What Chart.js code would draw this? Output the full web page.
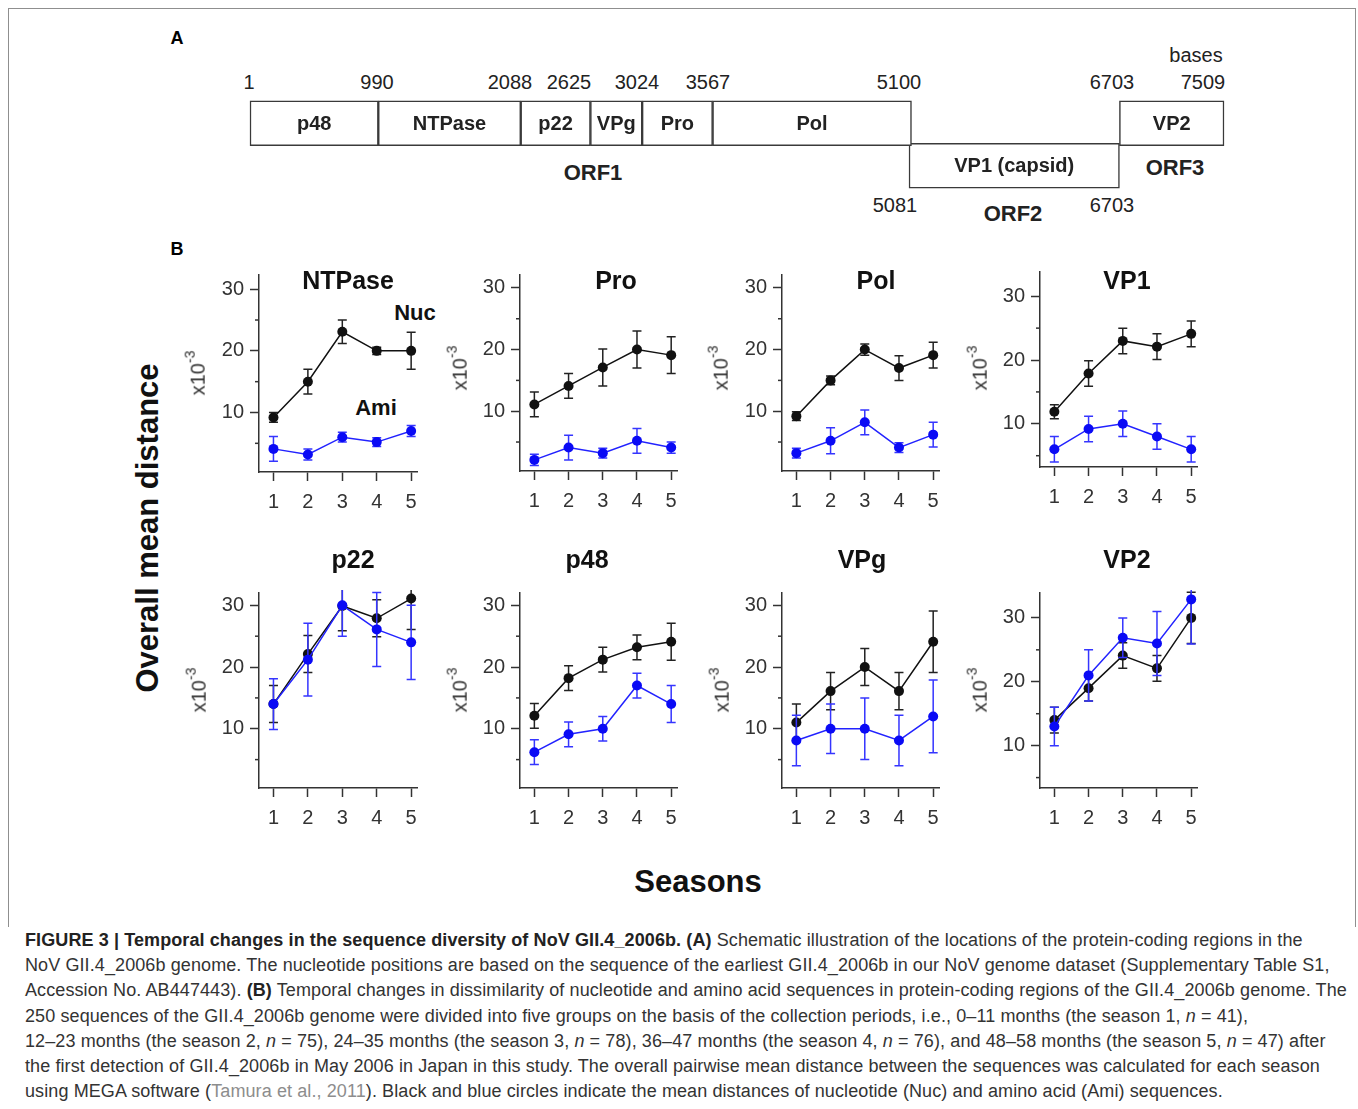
<!DOCTYPE html>
<html>
<head>
<meta charset="utf-8">
<script src="https://cdn.jsdelivr.net/npm/chart.js@4.4.1/dist/chart.umd.min.js"></script>
<style>
  body { margin: 0; background: #fff; font-family: "Liberation Sans", Arial, sans-serif; color: #222; }
  #page { position: relative; width: 1358px; height: 1109px; overflow: hidden; }
  #frame { position: absolute; left: 8px; top: 8px; width: 1346px; height: 918px;
           border: 1px solid #8f8f8f; border-bottom: none; }
  canvas { position: absolute; }
  .t { position: absolute; white-space: nowrap; line-height: 1; transform: translate(-50%, -50%); }
  .num { font-size: 20px; color: #222; }
  .orf { font-size: 22px; font-weight: bold; color: #222; }
  .panel { font-size: 18px; font-weight: bold; color: #000; }
  .title { font-size: 25px; font-weight: bold; color: #111; }
  .tag { font-size: 22px; font-weight: bold; color: #111; }
  .unit { font-size: 20px; color: #333; transform: translate(-50%, -50%) rotate(-90deg); }
  .unit sup { font-size: 14px; position: relative; top: -2px; }
  .big { font-size: 31px; font-weight: bold; color: #111; }
  #caption { position: absolute; left: 25px; top: 928px; font-size: 18px; line-height: 25.2px;
             letter-spacing: 0.1px; color: #333; white-space: nowrap; }
  #caption b { color: #222; }
  #caption .ref { color: #8d8d8d; }
</style>
</head>
<body>
<div id="page">
  <div id="frame"></div>

  <!-- panel A labels -->
  <div class="t panel" style="left:177px;top:38px">A</div>
  <div class="t num" style="left:1196px;top:55px">bases</div>
  <div class="t num" style="left:249px;top:82px">1</div>
  <div class="t num" style="left:377px;top:82px">990</div>
  <div class="t num" style="left:510px;top:82px">2088</div>
  <div class="t num" style="left:569px;top:82px">2625</div>
  <div class="t num" style="left:637px;top:82px">3024</div>
  <div class="t num" style="left:708px;top:82px">3567</div>
  <div class="t num" style="left:899px;top:82px">5100</div>
  <div class="t num" style="left:1112px;top:82px">6703</div>
  <div class="t num" style="left:1203px;top:82px">7509</div>
  <div class="t orf" style="left:593px;top:173px">ORF1</div>
  <div class="t orf" style="left:1175px;top:168px">ORF3</div>
  <div class="t num" style="left:895px;top:205px">5081</div>
  <div class="t num" style="left:1112px;top:205px">6703</div>
  <div class="t orf" style="left:1013px;top:214px">ORF2</div>

  <!-- panel B labels -->
  <div class="t panel" style="left:177px;top:249px">B</div>
  <div class="t big" style="left:147px;top:528px;transform:translate(-50%,-50%) rotate(-90deg)">Overall mean distance</div>
  <div class="t big" style="left:698px;top:881px">Seasons</div>
  <div class="t tag" style="left:415px;top:313px">Nuc</div>
  <div class="t tag" style="left:376px;top:408px">Ami</div>

  <div id="caption">
    <b>FIGURE 3 | Temporal changes in the sequence diversity of NoV GII.4_2006b. (A)</b> Schematic illustration of the locations of the protein-coding regions in the<br>
    NoV GII.4_2006b genome. The nucleotide positions are based on the sequence of the earliest GII.4_2006b in our NoV genome dataset (Supplementary Table S1,<br>
    Accession No. AB447443). <b>(B)</b> Temporal changes in dissimilarity of nucleotide and amino acid sequences in protein-coding regions of the GII.4_2006b genome. The<br>
    250 sequences of the GII.4_2006b genome were divided into five groups on the basis of the collection periods, i.e., 0–11 months (the season 1, <i>n</i> = 41),<br>
    12–23 months (the season 2, <i>n</i> = 75), 24–35 months (the season 3, <i>n</i> = 78), 36–47 months (the season 4, <i>n</i> = 76), and 48–58 months (the season 5, <i>n</i> = 47) after<br>
    the first detection of GII.4_2006b in May 2006 in Japan in this study. The overall pairwise mean distance between the sequences was calculated for each season<br>
    using MEGA software (<span class="ref">Tamura et al., 2011</span>). Black and blue circles indicate the mean distances of nucleotide (Nuc) and amino acid (Ami) sequences.
  </div>
</div>

<script>
// ── DATA ─────────────────────────────────────
// genome map (panel A)
const REGIONS      = ['p48', 'NTPase', 'p22', 'VPg', 'Pro', 'Pol', 'VP1 (capsid)', 'VP2'];
const REGION_START = [1, 990, 2088, 2625, 3024, 3567, 5081, 6703];
const REGION_END   = [990, 2088, 2625, 3024, 3567, 5100, 6703, 7509];
const REGION_ROW   = [0, 0, 0, 0, 0, 0, 1, 0];   // 0 = ORF1/ORF3 line, 1 = ORF2 line
const ROWS         = ['ORF1/ORF3', 'ORF2'];

// seasons (panel B)
const SEASONS     = [1, 2, 3, 4, 5];
const Y_TICKS     = [10, 20, 30];
const Y_MINOR     = [5, 15, 25];

const NTPASE_NUC     = [9.2, 15.0, 23.1, 20.0, 20.0];
const NTPASE_NUC_ERR = [0.8, 2.0, 1.9, 0.6, 3.0];
const NTPASE_AMI     = [4.1, 3.2, 6.0, 5.2, 7.0];
const NTPASE_AMI_ERR = [2.0, 0.9, 0.8, 0.7, 0.9];

const PRO_NUC     = [11.1, 14.1, 17.1, 20.0, 19.1];
const PRO_NUC_ERR = [2.0, 2.0, 3.0, 3.0, 3.0];
const PRO_AMI     = [2.1, 4.1, 3.2, 5.2, 4.1];
const PRO_AMI_ERR = [0.9, 2.0, 0.8, 2.0, 0.9];

const POL_NUC     = [9.2, 15.0, 20.0, 17.0, 19.1];
const POL_NUC_ERR = [0.7, 0.7, 0.9, 2.0, 2.1];
const POL_AMI     = [3.2, 5.2, 8.2, 4.1, 6.2];
const POL_AMI_ERR = [0.8, 2.1, 2.0, 0.8, 2.0];

const VP1_NUC     = [11.9, 17.9, 23.0, 22.1, 24.1];
const VP1_NUC_ERR = [1.1, 2.0, 2.0, 2.0, 2.0];
const VP1_AMI     = [6.0, 9.2, 10.0, 8.0, 6.0];
const VP1_AMI_ERR = [2.0, 2.0, 2.0, 2.0, 2.0];

const P22_NUC     = [14.0, 22.1, 29.9, 27.9, 31.1];
const P22_NUC_ERR = [3.0, 3.0, 4.0, 3.0, 5.0];
const P22_AMI     = [14.0, 21.2, 30.0, 26.1, 24.0];
const P22_AMI_ERR = [4.1, 5.9, 5.0, 6.0, 6.0];

const P48_NUC     = [12.1, 18.2, 21.2, 23.2, 24.1];
const P48_NUC_ERR = [2.0, 2.0, 2.0, 2.0, 3.0];
const P48_AMI     = [6.2, 9.1, 10.0, 17.0, 14.0];
const P48_AMI_ERR = [2.0, 2.0, 2.0, 2.0, 3.0];

const VPG_NUC     = [11.0, 16.1, 20.0, 16.1, 24.1];
const VPG_NUC_ERR = [3.0, 3.0, 3.0, 3.0, 5.0];
const VPG_AMI     = [8.1, 10.0, 10.0, 8.1, 12.0];
const VPG_AMI_ERR = [4.1, 4.0, 5.0, 4.1, 5.9];

const VP2_NUC     = [14.0, 19.0, 24.1, 22.1, 30.0];
const VP2_NUC_ERR = [2.0, 2.0, 2.0, 2.0, 4.0];
const VP2_AMI     = [13.0, 21.0, 26.9, 26.0, 32.9];
const VP2_AMI_ERR = [3.0, 4.0, 3.1, 5.0, 7.0];

// ── STYLE ────────────────────────────────────
const FONT   = '"Liberation Sans", Arial, sans-serif';
const AXIS   = '#333';
const BLACK  = '#111';
const BLUE   = '#0a0af5';
const BLUE_E = '#3535ff';
const page   = document.getElementById('page');

// panel layout: plot box [left, top, right, bottom] in page px, y range, title & unit-label spots
const PANELS = [
  { title: 'NTPase', nuc: NTPASE_NUC, nucErr: NTPASE_NUC_ERR, ami: NTPASE_AMI, amiErr: NTPASE_AMI_ERR,
    box: [259, 275, 417, 472], y: [0.35, 32.3], t: [348, 280], u: [196, 373] },
  { title: 'Pro', nuc: PRO_NUC, nucErr: PRO_NUC_ERR, ami: PRO_AMI, amiErr: PRO_AMI_ERR,
    box: [520, 275, 677, 471], y: [0.3, 32.1], t: [616, 280], u: [458, 368] },
  { title: 'Pol', nuc: POL_NUC, nucErr: POL_NUC_ERR, ami: POL_AMI, amiErr: POL_AMI_ERR,
    box: [782, 275, 939, 471], y: [0.3, 32.1], t: [876, 280], u: [719, 368] },
  { title: 'VP1', nuc: VP1_NUC, nucErr: VP1_NUC_ERR, ami: VP1_AMI, amiErr: VP1_AMI_ERR,
    box: [1040, 272, 1197, 467], y: [3.23, 33.8], t: [1127, 280], u: [978, 368] },
  { title: 'p22', nuc: P22_NUC, nucErr: P22_NUC_ERR, ami: P22_AMI, amiErr: P22_AMI_ERR,
    box: [259, 593, 417, 788], y: [0.4, 32.0], t: [353, 559], u: [197, 690] },
  { title: 'p48', nuc: P48_NUC, nucErr: P48_NUC_ERR, ami: P48_AMI, amiErr: P48_AMI_ERR,
    box: [520, 593, 677, 788], y: [0.4, 32.0], t: [587, 559], u: [458, 690] },
  { title: 'VPg', nuc: VPG_NUC, nucErr: VPG_NUC_ERR, ami: VPG_AMI, amiErr: VPG_AMI_ERR,
    box: [782, 593, 939, 788], y: [0.4, 32.0], t: [862, 559], u: [720, 690] },
  { title: 'VP2', nuc: VP2_NUC, nucErr: VP2_NUC_ERR, ami: VP2_AMI, amiErr: VP2_AMI_ERR,
    box: [1040, 593, 1197, 788], y: [3.37, 33.9], t: [1127, 559], u: [978, 690] }
];

// ── PLUGINS ──────────────────────────────────
const errorBars = {
  id: 'errorBars',
  beforeDatasetDraw(chart, args) {
    const ds = chart.data.datasets[args.index];
    if (!ds.errors) return;
    const { ctx, chartArea: a, scales: { x, y } } = chart;
    ctx.save();
    ctx.beginPath();
    ctx.rect(a.left - 8, a.top - 3, a.right - a.left + 16, a.bottom - a.top + 6);
    ctx.clip();
    ctx.strokeStyle = ds.errColor;
    ctx.lineWidth = 1.5;
    ds.data.forEach((p, i) => {
      const px = x.getPixelForValue(p.x);
      const hi = y.getPixelForValue(p.y + ds.errors[i]);
      const lo = y.getPixelForValue(p.y - ds.errors[i]);
      ctx.beginPath();
      ctx.moveTo(px, hi);       ctx.lineTo(px, lo);
      ctx.moveTo(px - 4.5, hi); ctx.lineTo(px + 4.5, hi);
      ctx.moveTo(px - 4.5, lo); ctx.lineTo(px + 4.5, lo);
      ctx.stroke();
    });
    ctx.restore();
  }
};

const minorTicks = {
  id: 'minorTicks',
  afterDraw(chart) {
    const { ctx, chartArea: a, scales: { y } } = chart;
    ctx.save();
    ctx.strokeStyle = AXIS;
    ctx.lineWidth = 1.5;
    Y_MINOR.forEach(v => {
      if (v < y.min || v > y.max) return;
      const py = y.getPixelForValue(v);
      ctx.beginPath();
      ctx.moveTo(a.left - 4, py);
      ctx.lineTo(a.left, py);
      ctx.stroke();
    });
    ctx.restore();
  }
};

const boxLabels = {
  id: 'boxLabels',
  afterDatasetsDraw(chart) {
    const ctx = chart.ctx;
    ctx.save();
    ctx.fillStyle = '#222';
    ctx.font = 'bold 20px ' + FONT;
    ctx.textAlign = 'center';
    ctx.textBaseline = 'middle';
    chart.data.datasets.forEach((ds, i) => {
      const el = chart.getDatasetMeta(i).data[REGION_ROW[i]];
      if (!el) return;
      ctx.fillText(ds.label, (el.x + el.base) / 2, el.y + 1);
    });
    ctx.restore();
  }
};

// ── HELPERS ──────────────────────────────────
function addCanvas(left, top, w, h) {
  const cv = document.createElement('canvas');
  cv.width = Math.round(w);
  cv.height = Math.round(h);
  cv.style.left = Math.round(left) + 'px';
  cv.style.top = Math.round(top) + 'px';
  page.appendChild(cv);
  return cv;
}

function addText(cls, x, y, html) {
  const d = document.createElement('div');
  d.className = 't ' + cls;
  d.style.left = x + 'px';
  d.style.top = y + 'px';
  d.innerHTML = html;
  page.appendChild(d);
}

// ── GENOME MAP ───────────────────────────────
function drawGenome() {
  const cv = addCanvas(240, 92, 994, 105);
  new Chart(cv, {
    type: 'bar',
    data: {
      labels: ROWS,
      datasets: REGIONS.map((name, i) => ({
        label: name,
        data: ROWS.map((r, j) => j === REGION_ROW[i] ? [REGION_START[i], REGION_END[i]] : null),
        backgroundColor: '#fff',
        borderColor: '#3a3a3a',
        borderWidth: 1.5,
        borderSkipped: false,
        grouped: false,
        barThickness: 45,
        clip: 8
      }))
    },
    options: {
      indexAxis: 'y',
      responsive: false,
      animation: false,
      devicePixelRatio: 1,
      layout: { padding: { left: 10, right: 10, top: 10, bottom: 10 } },
      plugins: { legend: { display: false }, tooltip: { enabled: false } },
      scales: {
        x: { type: 'linear', display: false, min: 1, max: 7509 },
        y: { display: false, offset: true }
      }
    },
    plugins: [boxLabels]
  });
}

// ── SEASON PANELS ────────────────────────────
function drawPanel(p) {
  const [L, T, R, B] = p.box;
  const padT = 24, padR = 20, yW = 70, xH = 45;
  const cv = addCanvas(L - yW, T - padT, (R - L) + yW + padR, (B - T) + padT + xH);
  const pts = arr => SEASONS.map((s, i) => ({ x: s, y: arr[i] }));

  new Chart(cv, {
    type: 'line',
    data: {
      datasets: [
        { label: 'Nuc', data: pts(p.nuc), errors: p.nucErr, errColor: '#222', order: 2,
          borderColor: BLACK, backgroundColor: BLACK, borderWidth: 1.5, tension: 0,
          pointRadius: 5, pointBorderWidth: 0, pointBackgroundColor: BLACK, clip: 8 },
        { label: 'Ami', data: pts(p.ami), errors: p.amiErr, errColor: BLUE_E, order: 1,
          borderColor: '#2222ff', backgroundColor: BLUE, borderWidth: 1.5, tension: 0,
          pointRadius: 5, pointBorderWidth: 0, pointBackgroundColor: BLUE, clip: 8 }
      ]
    },
    options: {
      responsive: false,
      animation: false,
      devicePixelRatio: 1,
      layout: { padding: { top: padT, right: padR, left: 0, bottom: 0 } },
      plugins: { legend: { display: false }, tooltip: { enabled: false } },
      scales: {
        x: {
          type: 'linear', min: 0.58, max: 5.17,
          afterBuildTicks: s => { s.ticks = SEASONS.map(v => ({ value: v })); },
          afterFit: s => { s.height = xH; },
          grid: { drawOnChartArea: false, tickLength: 9, tickColor: AXIS, tickWidth: 1.5 },
          border: { color: AXIS, width: 1.5 },
          ticks: { color: '#333', font: { size: 20, family: FONT }, padding: 9, maxRotation: 0, autoSkip: false }
        },
        y: {
          min: p.y[0], max: p.y[1],
          afterBuildTicks: s => { s.ticks = Y_TICKS.map(v => ({ value: v })); },
          afterFit: s => { s.width = yW; },
          grid: { drawOnChartArea: false, tickLength: 9, tickColor: AXIS, tickWidth: 1.5 },
          border: { color: AXIS, width: 1.5 },
          ticks: { color: '#333', font: { size: 20, family: FONT }, padding: 6 }
        }
      }
    },
    plugins: [errorBars, minorTicks]
  });

  addText('title', p.t[0], p.t[1], p.title);
  addText('unit', p.u[0], p.u[1], 'x10<sup>-3</sup>');
}

drawGenome();
PANELS.forEach(drawPanel);
</script>
</body>
</html>
